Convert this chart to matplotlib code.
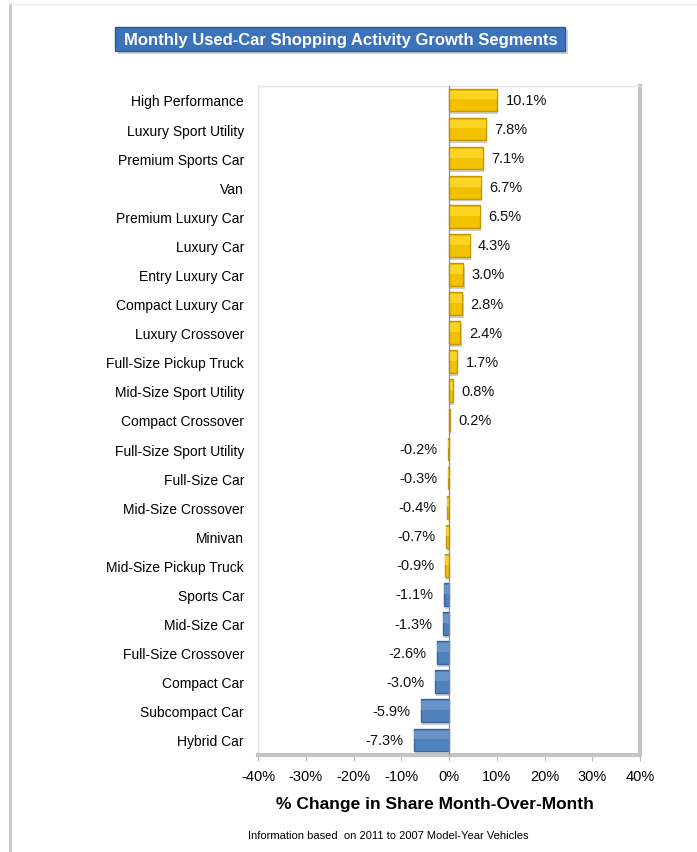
import matplotlib.pyplot as plt
from matplotlib.patches import FancyBboxPatch
from matplotlib.lines import Line2D

segments = ['High Performance', 'Luxury Sport Utility', 'Premium Sports Car', 'Van',
            'Premium Luxury Car', 'Luxury Car', 'Entry Luxury Car', 'Compact Luxury Car',
            'Luxury Crossover', 'Full-Size Pickup Truck', 'Mid-Size Sport Utility',
            'Compact Crossover', 'Full-Size Sport Utility', 'Full-Size Car',
            'Mid-Size Crossover', 'Minivan', 'Mid-Size Pickup Truck', 'Sports Car',
            'Mid-Size Car', 'Full-Size Crossover', 'Compact Car', 'Subcompact Car',
            'Hybrid Car']
change = [10.1, 7.8, 7.1, 6.7, 6.5, 4.3, 3.0, 2.8, 2.4, 1.7, 0.8, 0.2,
          -0.2, -0.3, -0.4, -0.7, -0.9, -1.1, -1.3, -2.6, -3.0, -5.9, -7.3]
xticks = [-40, -30, -20, -10, 0, 10, 20, 30, 40]
n_gold = 17  # first segments drawn in gold, the rest in blue

plt.rcParams['font.family'] = ['Liberation Sans', 'DejaVu Sans']

fig = plt.figure(figsize=(6.97, 8.53), dpi=100)
ax = fig.add_axes([258 / 697, 1 - 756 / 853, 382 / 697, 669 / 853])

ypos = list(range(len(segments)))
face = ['#F2C100' if i < n_gold else '#4F81BD' for i in ypos]
light = ['#FFDA2E' if i < n_gold else '#7199CC' for i in ypos]
edge = ['#C69500' if i < n_gold else '#3A6599' for i in ypos]

# shadow, body, soft highlight
ax.barh([y + 0.1 for y in ypos], change, height=0.78, left=0.25, color='#CFCFCF', zorder=1)
ax.barh(ypos, change, height=0.78, color=face, edgecolor=edge, linewidth=1.0, zorder=2)
ax.barh([y - 0.17 for y in ypos], change, height=0.3, color=light, linewidth=0,
        alpha=0.8, zorder=3)

for y, v in zip(ypos, change):
    if v >= 0:
        ax.annotate(f'{v:.1f}%', (v, y), xytext=(6, 0), textcoords='offset points',
                    ha='left', va='center', fontsize=10.5, color='#111111')
    else:
        ax.annotate(f'{v:.1f}%', (v, y), xytext=(-7.5, 0), textcoords='offset points',
                    ha='right', va='center', fontsize=10.5, color='#111111')

ax.axvline(0, color='#8C8C8C', linewidth=0.9, zorder=4)
ax.set_xlim(-40, 40)
ax.set_ylim(len(segments) - 0.48, -0.48)
ax.set_xticks(xticks)
ax.set_xticklabels([f'{t}%' for t in xticks], fontsize=10.5)
ax.set_yticks(ypos)
ax.set_yticklabels(segments, fontsize=10)
ax.tick_params(axis='y', length=0, pad=10)
ax.tick_params(axis='x', length=4, color='#BBBBBB', pad=6)

for side in ['top', 'left']:
    ax.spines[side].set_color('#E4E4E4')
    ax.spines[side].set_linewidth(1)
for side in ['right', 'bottom']:
    ax.spines[side].set_color('#C4C4C4')
    ax.spines[side].set_linewidth(3)

# title box
box = FancyBboxPatch((115 / 697, 1 - 52 / 853), 450 / 697, 24 / 853,
                     boxstyle='square,pad=0', transform=fig.transFigure,
                     facecolor='#3B72BA', edgecolor='#2C5A96', linewidth=1)
shadow = FancyBboxPatch((118 / 697, 1 - 55 / 853), 450 / 697, 24 / 853,
                        boxstyle='square,pad=0', transform=fig.transFigure,
                        facecolor='#B0B0B0', edgecolor='none', alpha=0.6)
fig.patches.extend([shadow, box])
fig.text(341 / 697, 1 - 40 / 853, 'Monthly Used-Car Shopping Activity Growth Segments',
         ha='center', va='center', color='white', fontsize=12, fontweight='bold')

fig.text(435 / 697, 1 - 805 / 853, '% Change in Share Month-Over-Month',
         ha='center', va='center', fontsize=12.5, fontweight='bold')
fig.text(248 / 697, 1 - 836 / 853, 'Information based  on 2011 to 2007 Model-Year Vehicles',
         ha='left', va='center', fontsize=8)

# page border
fig.lines.append(Line2D([10 / 697, 10 / 697], [0, 1 - 5 / 853], transform=fig.transFigure,
                        color='#C8C8C8', linewidth=2))
fig.lines.append(Line2D([10 / 697, 1], [1 - 5 / 853, 1 - 5 / 853], transform=fig.transFigure,
                        color='#EEEEEE', linewidth=1))

fig.savefig('out.png', dpi=100)
